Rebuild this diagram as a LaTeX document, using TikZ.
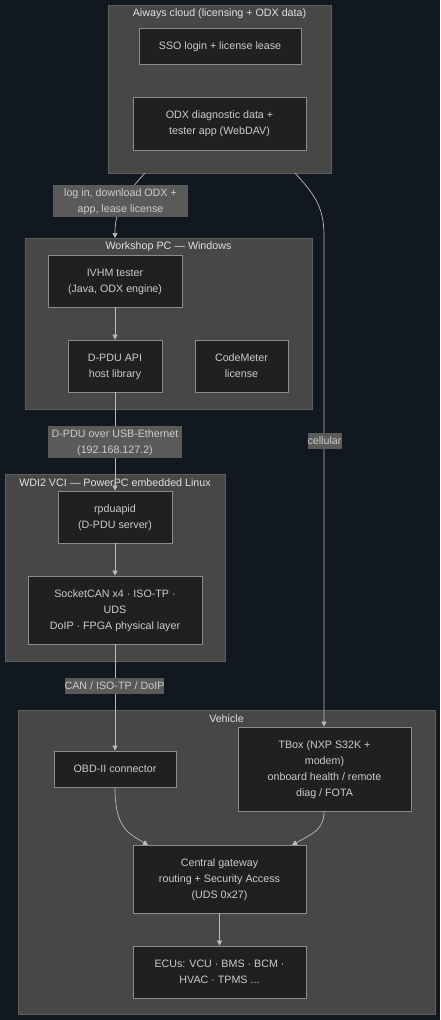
\documentclass[tikz,border=0pt]{standalone}
\usepackage{fontspec}
\setmainfont{Liberation Sans}
\usetikzlibrary{arrows.meta}
\definecolor{bg}{HTML}{111820}
\definecolor{clfill}{HTML}{474747}
\definecolor{clline}{HTML}{5E5E5E}
\definecolor{ndfill}{HTML}{1F2020}
\definecolor{ndline}{HTML}{8C8C8C}
\definecolor{txt}{HTML}{CCCCCC}
\definecolor{ttl}{HTML}{E0E0E0}
\definecolor{edge}{HTML}{BBBBBB}
\definecolor{lblfill}{HTML}{5A5A5A}
\newcommand{\tl}[1]{\raisebox{-1.8pt}{\begin{tabular}{@{}c@{}}#1\end{tabular}}}
\tikzset{
  cluster/.style={draw=clline, fill=clfill, line width=0.8pt},
  ctitle/.style={text=ttl, font=\fontsize{10.7}{12}\selectfont, inner sep=0pt},
  box/.style={draw=ndline, fill=ndfill, line width=0.8pt, text=txt,
    font=\fontsize{10.7}{16}\selectfont, inner sep=0pt},
  elabel/.style={fill=lblfill, text=txt, font=\fontsize{10.7}{16}\selectfont, inner sep=0pt},
  conn/.style={draw=edge, line width=0.7pt, -{Triangle[length=5pt,width=5pt]}},
}
\begin{document}
\begin{tikzpicture}[x=1pt,y=-1pt]
\fill[bg] (0,0) rectangle (440,1020);
\useasboundingbox (0,0) rectangle (440,1020);
% clusters
\draw[cluster] (108,5) rectangle (331,173);
\node[ctitle] (tcloud) at (219.5,14) {Aiways cloud (licensing + ODX data)};
\draw[cluster] (25,238) rectangle (312,409);
\node[ctitle] (tpc) at (168.5,247) {Workshop PC — Windows};
\draw[cluster] (5,474) rectangle (225,661);
\node[ctitle] (tvci) at (115,483) {WDI2 VCI — PowerPC embedded Linux};
\draw[cluster] (18,710) rectangle (435,1014);
\node[ctitle] (tveh) at (226.5,719) {Vehicle};
\coordinate (cloudA) at (145,173);
\coordinate (cloudB) at (295,173);
\coordinate (pctop) at (115,238);
% nodes
\node[box, minimum width=162pt, minimum height=36pt] (sso) at (220,46) {\tl{SSO login + license lease}};
\node[box, minimum width=173pt, minimum height=53pt] (odx) at (219.5,123.5) {\tl{ODX diagnostic data +\\tester app (WebDAV)}};
\node[box, minimum width=134pt, minimum height=52pt] (ivhm) at (115,281) {\tl{IVHM tester\\(Java, ODX engine)}};
\node[box, minimum width=94pt, minimum height=52pt] (dpdu) at (115,366) {\tl{D-PDU API\\host library}};
\node[box, minimum width=93pt, minimum height=52pt] (cm) at (241.5,366) {\tl{CodeMeter\\license}};
\node[box, minimum width=114pt, minimum height=52pt] (rpd) at (115,517) {\tl{rpduapid\\(D-PDU server)}};
\node[box, minimum width=174pt, minimum height=68pt] (sock) at (115,610) {\tl{SocketCAN x4 · ISO-TP ·\\UDS\\DoIP · FPGA physical layer}};
\node[box, minimum width=122pt, minimum height=36pt] (obd) at (115,769) {\tl{OBD-II connector}};
\node[box, minimum width=173pt, minimum height=84pt] (tbox) at (324.5,769) {\tl{TBox (NXP S32K +\\modem)\\onboard health / remote\\diag / FOTA}};
\node[box, minimum width=173pt, minimum height=68pt] (gw) at (219.5,879) {\tl{Central gateway\\routing + Security Access\\(UDS 0x27)}};
\node[box, minimum width=173pt, minimum height=52pt] (ecu) at (219.5,972) {\tl{ECUs: VCU · BMS · BCM ·\\HVAC · TPMS ...}};
% edges
\draw[conn] (cloudA) .. controls (122,198) and (115,212) .. (pctop);
\node[elabel, minimum width=135pt, minimum height=31pt] (l1) at (120.5,201) {\tl{log in, download ODX +\\app, lease license}};
\draw[conn] (ivhm.south) -- (dpdu.north);
\draw[conn] (dpdu.south) -- (rpd.north);
\node[elabel, minimum width=134pt, minimum height=32pt] (l2) at (115,442) {\tl{D-PDU over USB-Ethernet\\(192.168.127.2)}};
\draw[conn] (rpd.south) -- (sock.north);
\draw[conn] (sock.south) -- (obd.north);
\node[elabel, minimum width=99pt, minimum height=16pt] (l3) at (114.5,686) {\tl{CAN / ISO-TP / DoIP}};
\draw[conn] (cloudB) .. controls (312,192) and (324,205) .. (324,235) -- (tbox.north -| 324,0);
\node[elabel, minimum width=34pt, minimum height=16pt] (l4) at (324.5,441) {\tl{cellular}};
\draw[conn] (obd.south) .. controls (115,828) and (128,833) .. (148,845);
\draw[conn] (tbox.south -| 324,0) .. controls (324,830) and (312,834) .. (292,845);
\draw[conn] (gw.south) -- (ecu.north);
\end{tikzpicture}
\end{document}
